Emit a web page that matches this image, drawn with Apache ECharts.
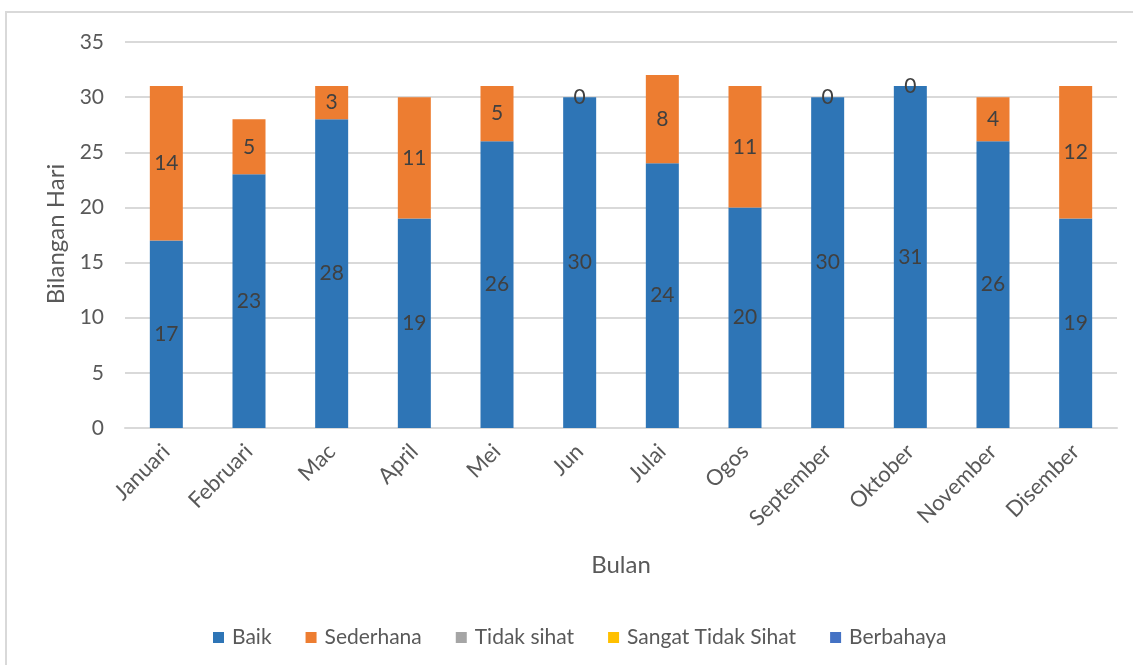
<!DOCTYPE html>
<html>
<head>
<meta charset="utf-8">
<script src="https://cdn.jsdelivr.net/npm/echarts@6/dist/echarts.min.js"></script>
<style>
html,body{margin:0;padding:0;background:#fff;}
#chart{width:1133px;height:665px;}
</style>
</head>
<body>
<div id="chart"></div>
<script>
const categories = ['Januari','Februari','Mac','April','Mei','Jun','Julai','Ogos','September','Oktober','November','Disember'];
const baik = [17,23,28,19,26,30,24,20,30,31,26,19];
const sederhana = [14,5,3,11,5,0,8,11,0,0,4,12];
const tidakSihat = [0,0,0,0,0,0,0,0,0,0,0,0];
const sangatTidakSihat = [0,0,0,0,0,0,0,0,0,0,0,0];
const berbahaya = [0,0,0,0,0,0,0,0,0,0,0,0];
const seriesNames = ['Baik','Sederhana','Tidak sihat','Sangat Tidak Sihat','Berbahaya'];
const colors = ['#2E75B6','#ED7D31','#A5A5A5','#FFC000','#4472C4'];
const yTitle = 'Bilangan Hari';
const xTitle = 'Bulan';

const FONT = 'Lato, "Open Sans", sans-serif';
const chart = echarts.init(document.getElementById('chart'));
const labelStyle = {show:true, position:'inside', color:'#404040', fontSize:21, fontFamily:FONT};
const dataSets = [baik, sederhana, tidakSihat, sangatTidakSihat, berbahaya];
const series = dataSets.map((d,i)=>({
  name: seriesNames[i],
  type:'bar',
  stack:'total',
  barWidth: 33,
  data: d,
  itemStyle:{color:colors[i]},
  label: i < 2 ? labelStyle : {show:false}
}));

chart.setOption({
  animation:false,
  color: colors,
  textStyle:{fontFamily:FONT},
  graphic:[
    {type:'rect', shape:{x:6,y:12,width:1300,height:800}, style:{fill:'none', stroke:'#d9d9d9', lineWidth:2}, silent:true},
    {type:'text', x:56, y:234, rotation:Math.PI/2, silent:true,
     style:{text:yTitle, fill:'#595959', font:'24px Lato, "Open Sans", sans-serif', textAlign:'center', textVerticalAlign:'middle'}}
  ],
  grid:{left:125, right:16, top:42, bottom:237},
  legend:{
    data: seriesNames, top:622, left:208,
    itemWidth:11, itemHeight:11, itemGap:34, icon:'rect',
    textStyle:{color:'#595959', fontSize:21, fontFamily:FONT, padding:[0,0,0,3]}
  },
  xAxis:{
    type:'category', data:categories,
    name:xTitle, nameLocation:'middle', nameGap:125,
    nameTextStyle:{color:'#595959', fontSize:24, fontFamily:FONT},
    axisLine:{lineStyle:{color:'#d9d9d9', width:2}},
    axisTick:{show:false},
    axisLabel:{rotate:45, color:'#595959', fontSize:22, margin:20, fontFamily:FONT, interval:0}
  },
  yAxis:{
    type:'value', min:0, max:35, interval:5,
    axisLine:{show:false}, axisTick:{show:false},
    axisLabel:{color:'#595959', fontSize:21, margin:21, fontFamily:FONT},
    splitLine:{lineStyle:{color:'#d9d9d9', width:2}}
  },
  series: series
});
</script>
</body>
</html>
